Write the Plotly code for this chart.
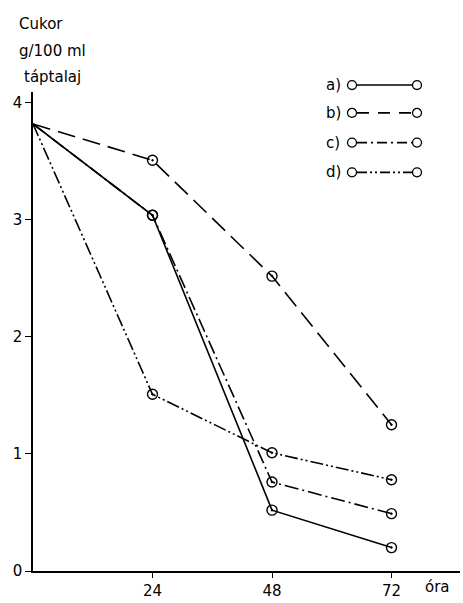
import plotly.graph_objects as go

# ---- data ----
hours = [0, 24, 48, 72]
series_names = ["a)", "b)", "c)", "d)"]
sugar_a = [3.82, 3.04, 0.52, 0.20]
sugar_b = [3.82, 3.51, 2.52, 1.25]
sugar_c = [3.82, 3.04, 0.76, 0.49]
sugar_d = [3.82, 1.51, 1.01, 0.78]
x_ticks = [24, 48, 72]
y_ticks = [0, 1, 2, 3, 4]
y_title_lines = ["Cukor", "g/100 ml", "táptalaj"]
x_unit = "óra"

W, H = 463, 603
L, R, T, B = 33, 3, 92, 28
PW, PH = W - L - R, H - T - B

def px(xp):
    return (xp - L) / PW

def py(yp):
    return (H - B - yp) / PH

dashes = ["solid", "18px,8px", "14px,4px,2px,4px", "13px,3px,2px,3px,2px,3px"]
leg_dashes = ["solid", "12px,9px", "10px,4px,2px,4px", "10px,3px,2px,3px,2px,3px"]
all_series = [sugar_a, sugar_b, sugar_c, sugar_d]
FONT = "DejaVu Sans"

fig = go.Figure()
order = [2, 3, 1, 0]
for i in order:
    ys = all_series[i]
    fig.add_trace(go.Scatter(
        x=hours, y=ys, mode="lines", name=series_names[i],
        line=dict(color="black", width=1.6, dash=dashes[i]),
        showlegend=False, hoverinfo="skip"))
    fig.add_trace(go.Scatter(
        x=hours[1:], y=ys[1:], mode="markers", showlegend=False,
        marker=dict(symbol="circle-open-dot", size=10, color="black",
                    line=dict(width=1.4, color="black")),
        hoverinfo="skip"))

annotations = []
shapes = []
leg_y = [85, 113, 143, 173]
for i, name in enumerate(series_names):
    yy = py(leg_y[i])
    annotations.append(dict(x=px(333), y=yy, xref="paper", yref="paper",
                            text=name, showarrow=False,
                            font=dict(family=FONT, size=15, color="black"),
                            xanchor="center", yanchor="middle"))
    shapes.append(dict(type="line", xref="paper", yref="paper",
                       x0=px(357), x1=px(412), y0=yy, y1=yy,
                       line=dict(color="black", width=1.6, dash=leg_dashes[i])))
    for cx in (352, 417):
        shapes.append(dict(type="circle", xref="paper", yref="paper",
                           x0=px(cx - 4.5), x1=px(cx + 4.5),
                           y0=py(leg_y[i] + 4.5), y1=py(leg_y[i] - 4.5),
                           fillcolor="white",
                           line=dict(color="black", width=1.3)))

title_pos = [(41, 23), (52, 51), (52, 77)]
for (xp, yp), txt in zip(title_pos, y_title_lines):
    annotations.append(dict(x=px(xp), y=py(yp), xref="paper", yref="paper",
                            text=txt, showarrow=False,
                            font=dict(family=FONT, size=15, color="black"),
                            xanchor="center", yanchor="middle"))
annotations.append(dict(x=px(437), y=py(591), xref="paper", yref="paper",
                        text=x_unit, showarrow=False,
                        font=dict(family=FONT, size=15, color="black"),
                        xanchor="center", yanchor="middle"))

fig.update_layout(
    width=W, height=H,
    margin=dict(l=L, r=R, t=T, b=B, pad=0),
    plot_bgcolor="white", paper_bgcolor="white",
    font=dict(family=FONT, size=15, color="black"),
    shapes=shapes, annotations=annotations,
    xaxis=dict(range=[0, PW / 119.5 * 24], tickvals=x_ticks,
               ticktext=[str(v) for v in x_ticks],
               showgrid=False, zeroline=False, showline=True,
               linecolor="black", linewidth=1.5, ticks="outside",
               ticklen=5, tickwidth=1.2, tickcolor="black",
               tickfont=dict(family=FONT, size=15)),
    yaxis=dict(range=[0, PH / 118.0], tickvals=y_ticks,
               showgrid=False, zeroline=False, showline=True,
               linecolor="black", linewidth=1.5, ticks="outside",
               ticklen=6, tickwidth=1.2, tickcolor="black",
               tickfont=dict(family=FONT, size=15)),
)

fig.write_html("out.html")
